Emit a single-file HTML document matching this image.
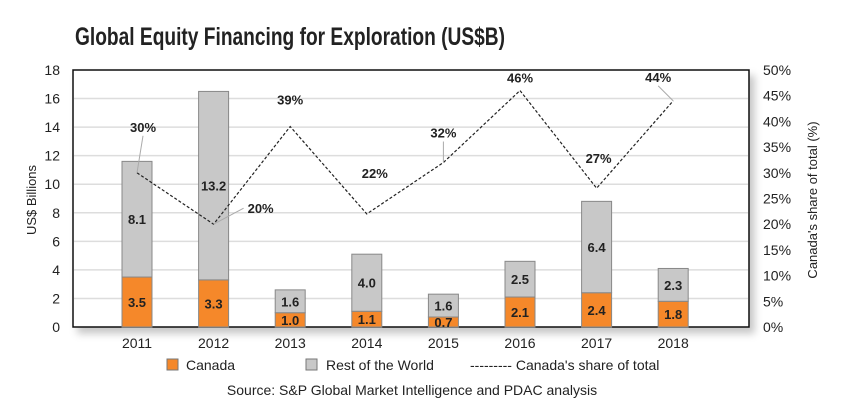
<!DOCTYPE html>
<html><head><meta charset="utf-8"><style>
body{margin:0;background:#fff}
svg{display:block;font-family:"Liberation Sans",Arial,sans-serif}
</style></head><body>
<svg id="chart" width="844" height="416" viewBox="0 0 844 416" xmlns="http://www.w3.org/2000/svg">
<defs><filter id="sh" x="-5%" y="-5%" width="115%" height="120%"><feDropShadow dx="5" dy="6" stdDeviation="4" flood-color="#000" flood-opacity="0.22"/></filter></defs>
<text x="75" y="45" font-family="'Liberation Sans Narrow','Liberation Sans',sans-serif" font-weight="bold" font-size="25" fill="#222" textLength="430" lengthAdjust="spacingAndGlyphs">Global Equity Financing for Exploration (US$B)</text>
<rect x="73" y="70" width="676" height="257" fill="#fff" stroke="#111" stroke-width="1.5" filter="url(#sh)"/>
<g id="grid"></g>
<g id="bars"></g>
<g id="line"></g>
<g id="axes"></g>
<text transform="translate(36,200) rotate(-90)" text-anchor="middle" font-size="13" fill="#222">US$ Billions</text>
<text transform="translate(817,200) rotate(-90)" text-anchor="middle" font-size="13" fill="#222">Canada's share of total (%)</text>
<g>
<rect x="167" y="359" width="11" height="11" fill="#f5882a" stroke="#777"/>
<text x="186" y="370" font-size="14" fill="#222">Canada</text>
<rect x="306" y="359" width="11" height="11" fill="#c8c8c8" stroke="#777"/>
<text x="326" y="370" font-size="14" fill="#222">Rest of the World</text>
<text x="470" y="370" font-size="14" fill="#222">--------- Canada's share of total</text>
</g>
<text x="412" y="395" text-anchor="middle" font-size="14" fill="#222">Source: S&amp;P Global Market Intelligence and PDAC analysis</text>
</svg>
<script>
const years=['2011','2012','2013','2014','2015','2016','2017','2018'];
const canada=[3.5,3.3,1.0,1.1,0.7,2.1,2.4,1.8];
const rest=[8.1,13.2,1.6,4.0,1.6,2.5,6.4,2.3];
const share=[30,20,39,22,32,46,27,44];
const yTicks=[0,2,4,6,8,10,12,14,16,18];
const y2Ticks=[0,5,10,15,20,25,30,35,40,45,50];
const NS='http://www.w3.org/2000/svg';
const y=v=>327-v*(257/18);
const y2=v=>327-v*(257/50);
const xc=i=>137+i*76.6;
function mk(tag,attrs,parent,txt){const e=document.createElementNS(NS,tag);for(const k in attrs)e.setAttribute(k,attrs[k]);if(txt!==undefined)e.textContent=txt;parent.appendChild(e);return e;}
const G=document.getElementById('grid'),B=document.getElementById('bars'),L=document.getElementById('line'),A=document.getElementById('axes');
yTicks.forEach(t=>{
 if(t>0&&t<18){const g=mk('line',{x1:74,x2:748,y1:y(t),y2:y(t),stroke:'#ddd','stroke-width':1.5},G);
 
 }
 const l=mk('text',{x:60,y:y(t)+5,'text-anchor':'end','font-size':14,fill:'#222'},A,t);
 
 
});
y2Ticks.forEach(t=>{
 const l=mk('text',{x:763,y:y2(t)+5,'font-size':14,fill:'#222'},A,t+'%');
 
 
});
years.forEach((yr,i)=>{
 const x=xc(i)-15;
 const r1=mk('rect',{x:x,y:y(canada[i]),width:30,height:y(0)-y(canada[i]),fill:'#f5882a',stroke:'#888'},B);
 
 
 const top=canada[i]+rest[i];
 const r2=mk('rect',{x:x,y:y(top),width:30,height:y(canada[i])-y(top),fill:'#c8c8c8',stroke:'#888'},B);
 
 
 const t1=mk('text',{x:xc(i),y:(y(canada[i])+y(0))/2+5,'text-anchor':'middle','font-size':13,'font-weight':'bold',fill:'#222'},B,canada[i].toFixed(1));
 
 
 const t2=mk('text',{x:xc(i),y:(y(top)+y(canada[i]))/2+5,'text-anchor':'middle','font-size':13,'font-weight':'bold',fill:'#222'},B,rest[i].toFixed(1));
 
 
 const xl=mk('text',{x:xc(i),y:348,'text-anchor':'middle','font-size':14,fill:'#222'},A,yr);
 
 
});
const pts=share.map((s,i)=>xc(i)+','+y2(s)).join(' ');
const pl=mk('polyline',{points:pts,fill:'none',stroke:'#222','stroke-width':1.2,'stroke-dasharray':'3,2'},L);


// label placement relative to point: [dx, dy(baseline), leader(0/1), anchor]
const off=[[6,-41,1,'middle'],[34,-11,1,'start'],[0,-22,0,'middle'],[8,-36,0,'middle'],[0,-25,1,'middle'],[0,-8,0,'middle'],[2,-25,0,'middle'],[-15,-19,1,'middle']];
share.forEach((s,i)=>{
 const px=xc(i),py=y2(s),o=off[i],lx=px+o[0],ly=py+o[1];
 if(o[2]){
  const ex=o[3]==='start'?lx-4:lx, ey=o[3]==='start'?ly-5:ly+4;
  const ln=mk('line',{x1:px,y1:py,x2:ex,y2:ey,stroke:'#aaa','stroke-width':1},L);
  
  }
 const t=mk('text',{x:lx,y:ly,'text-anchor':o[3],'font-size':13,'font-weight':'bold',fill:'#222'},L,s+'%');
 
 
});
</script>
</body></html>
